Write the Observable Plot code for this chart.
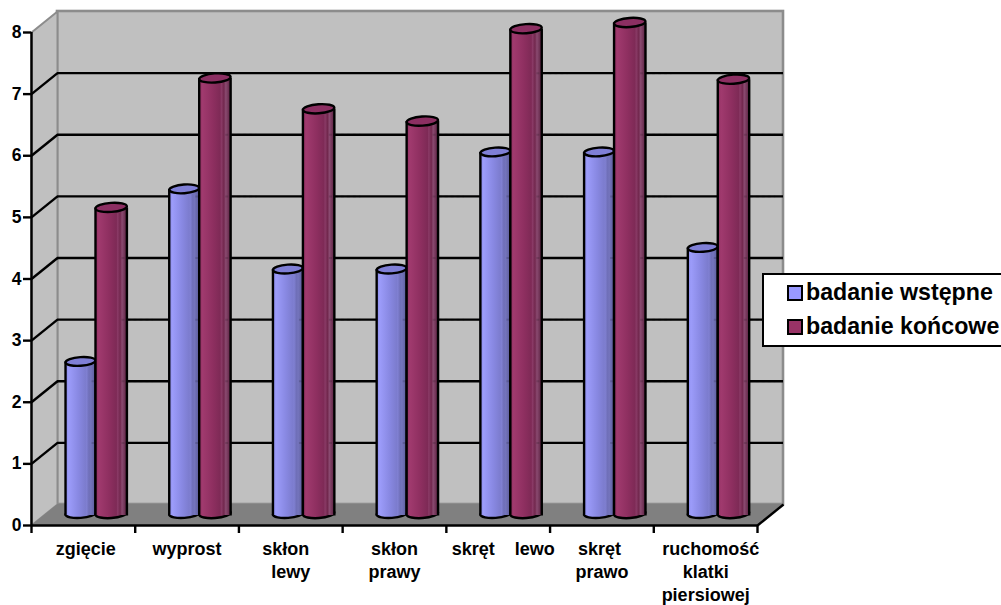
<!DOCTYPE html>
<html>
<head>
<meta charset="utf-8">
<script src="https://cdn.jsdelivr.net/npm/d3@7"></script>
<script src="https://cdn.jsdelivr.net/npm/@observablehq/plot@0.6"></script>
<style>
html,body{margin:0;padding:0;background:#fff;overflow:hidden;width:1001px;height:605px}
#wrap{position:relative;width:1001px;height:605px;overflow:hidden;font-family:"Liberation Sans",Arial,sans-serif}
#wrap svg{display:block;position:absolute;left:0;top:0;max-width:none}
#legend{position:absolute;left:762px;top:273px;width:260px;height:70px;background:#fff;border:2px solid #000;font-weight:bold;font-size:23.2px;color:#000}
#legend .row{position:absolute;left:42px;white-space:nowrap;line-height:26px}
#legend .sw{position:absolute;left:23px;width:12px;height:12px;border:2px solid #000}
</style>
</head>
<body>
<div id="wrap"><div id="legend"></div></div>
<script>
const nb="\u00a0";
const categories = [nb+"zgięcie","wyprost","skłon"+nb+nb+"\nlewy","skłon\nprawy",nb+nb+"skręt"+nb+nb+nb+nb+"lewo","skręt"+nb+"\nprawo",nb+nb+"ruchomość\nklatki\npiersiowej"];
const initial = [2.5,5.3,4.0,4.0,5.9,5.9,4.35];
const final = [5.0,7.1,6.6,6.4,7.9,8.0,7.08];
const seriesNames = ["badanie wstępne","badanie końcowe"];
const yTicks = [0,1,2,3,4,5,6,7,8];
const xTicks = [0,1,2,3,4,5,6,7];
const swatches = ["#9999ff","#993366"];

const DX = 26/103.7, DY = 21/61.6;   // depth of the box, in data units
const depth = {dx:26, dy:-21};
const lift = -10;                    // cylinder top offset inside the floor
const baseLift = -12;

const ellipse = {draw(ctx,size){
  const r=Math.sqrt(size/Math.PI), b=r*0.29, k=0.5523;
  ctx.moveTo(-r,0);
  ctx.bezierCurveTo(-r,-b*k,-r*k,-b,0,-b);
  ctx.bezierCurveTo(r*k,-b,r,-b*k,r,0);
  ctx.bezierCurveTo(r,b*k,r*k,b,0,b);
  ctx.bezierCurveTo(-r*k,b,-r,b*k,-r,0);
  ctx.closePath();
}};

function gradients(){
  const defs=d3.create("svg:defs");
  const add=(id,stops)=>{
    const g=defs.append("linearGradient").attr("id",id).attr("x1",0).attr("x2",1).attr("y1",0).attr("y2",0);
    stops.forEach(([o,c])=>g.append("stop").attr("offset",o).attr("stop-color",c));
  };
  add("gBlue",[[0,"#8585e0"],[.12,"#9c9cfa"],[.45,"#8888e2"],[.68,"#7c7cce"],[.72,"#8080d2"],[.8,"#6f6fb8"],[.86,"#7474bc"],[1,"#5e5e9c"]]);
  add("gRed",[[0,"#8c2e5e"],[.12,"#a03a6e"],[.45,"#8e2f60"],[.68,"#7e2a56"],[.72,"#8a3a66"],[.8,"#72284e"],[.86,"#8a4a70"],[1,"#5e2444"]]);
  return defs.node();
}

const rows=categories.map((c,i)=>({c,i,a:initial[i],b:final[i]}));
const xa=.328, xb=.617, xc=.92;

function bars(key,l,r,grad,top){
  const cx=d=>d.i+(l+r)/2, R=(r-l)*103.7/2;
  const common={x:cx,r:R,symbol:ellipse,rotate:-4,stroke:"#000",strokeWidth:2.4};
  const through=rows.flatMap(d=>yTicks.slice(1,-1).filter(t=>t+DY-10/61.6<d[key]).map(t=>({i:d.i,t})));
  return [
    Plot.dot(rows,{...common,y:()=>0,dy:baseLift,fill:`url(#${grad})`}),
    Plot.rect(rows,{x1:d=>d.i+l,x2:d=>d.i+r,y1:()=>0,y2:d=>d[key],dy:lift,fill:`url(#${grad})`}),
    Plot.link(through,{x1:d=>d.i+l,x2:d=>d.i+r,y1:"t",y2:"t",...depth,stroke:"#000",strokeWidth:2,strokeOpacity:.14,strokeDasharray:"3 3"}),
    Plot.link(rows,{x1:d=>d.i+l,x2:d=>d.i+l,y1:()=>0,y2:d=>d[key],dy:lift,stroke:"#000",strokeWidth:2.4}),
    Plot.link(rows,{x1:d=>d.i+r,x2:d=>d.i+r,y1:()=>0,y2:d=>d[key],dy:lift,stroke:"#000",strokeWidth:2.4}),
    Plot.dot(rows,{...common,y:d=>d[key],dy:lift,fill:top})
  ];
}

const poly=(pts,opts)=>Plot.line(pts,{x:"x",y:"y",...opts});
const leftWall=[{x:0,y:0},{x:DX,y:DY},{x:DX,y:8+DY},{x:0,y:8},{x:0,y:0}];
const floor=[{x:0,y:0},{x:7,y:0},{x:7+DX,y:DY},{x:DX,y:DY},{x:0,y:0}];

const chart=Plot.plot({
  width:1001,height:605,
  marginLeft:31,marginRight:244,marginTop:32,marginBottom:80,
  style:{background:"transparent",fontFamily:'"Liberation Sans",Arial,sans-serif',color:"#000"},
  x:{domain:[0,7]},
  y:{domain:[0,8]},
  marks:[
    gradients,
    Plot.rect([0],{x1:()=>0,x2:()=>7,y1:()=>0,y2:()=>8,...depth,fill:"#c0c0c0",stroke:"#8c8c8c",strokeWidth:2.6}),
    poly(leftWall,{fill:"#c0c0c0",stroke:"#8c8c8c",strokeWidth:2}),
    Plot.ruleY(yTicks.slice(1,-1),{...depth,stroke:"#000",strokeWidth:2.4}),
    Plot.link(yTicks.slice(1,-1),{x1:()=>0,x2:()=>DX,y1:d=>d,y2:d=>d+DY,stroke:"#000",strokeWidth:2.4}),
    poly(floor,{fill:"#808080",stroke:"#808080",strokeWidth:1}),
    ...bars("a",xa,xb,"gBlue","#7f7fd6"),
    ...bars("b",xb,xc,"gRed","#8c2f62"),
    Plot.link([0],{x1:()=>7,x2:()=>7+DX,y1:()=>0,y2:()=>DY,stroke:"#000",strokeWidth:2.4}),
    Plot.ruleX([0],{y1:()=>0,y2:()=>8,stroke:"#000",strokeWidth:2.4}),
    Plot.ruleY([0],{stroke:"#000",strokeWidth:2.4}),
    Plot.axisY({ticks:yTicks,tickFormat:d=>d,tickSize:8,tickPadding:2,strokeWidth:2.4,stroke:"#000",fontSize:17.5,fontWeight:"bold",fill:"#000",label:null}),
    Plot.axisX({ticks:xTicks,tickFormat:()=>"",tickSize:8,strokeWidth:2.4,stroke:"#000",label:null}),
    Plot.text(rows,{x:d=>d.i+.5,y:()=>0,dy:13.5,text:"c",lineAnchor:"top",lineHeight:1.27,fontSize:18,fontWeight:"bold",fill:"#000"})
  ]
});
const wrap=document.getElementById("wrap");
wrap.insertBefore(chart,wrap.firstChild);

const legend=document.getElementById("legend");
seriesNames.forEach((n,i)=>{
  const t=i?44:10, s=document.createElement("div");
  s.className="sw";s.style.top=t+"px";s.style.background=swatches[i];legend.appendChild(s);
  const r=document.createElement("div");
  r.className="row";r.style.top=(i?38:3.5)+"px";r.textContent=n;legend.appendChild(r);
});
</script>
</body>
</html>
